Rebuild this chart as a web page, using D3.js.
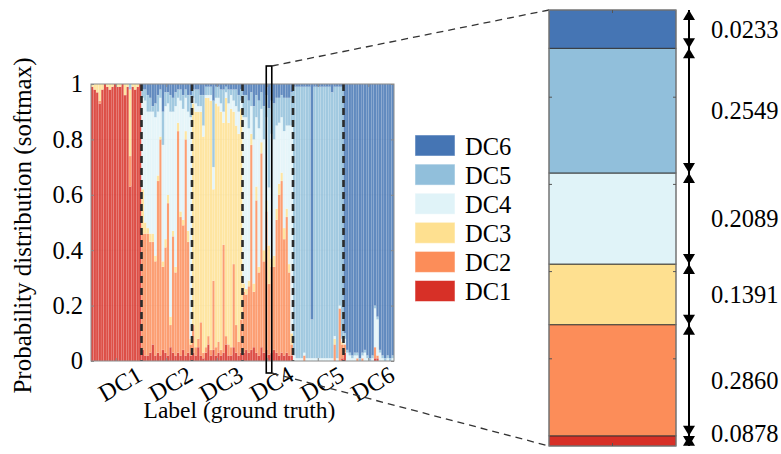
<!DOCTYPE html>
<html>
<head>
<meta charset="utf-8">
<script src="https://cdn.jsdelivr.net/npm/d3@7"></script>
<style>
  body { margin: 0; background: #fff; }
  text { font-family: "Liberation Serif", "Times New Roman", serif; fill: #000; }
</style>
</head>
<body>
<script>
// <--Data--> //
const classes = ["DC1", "DC2", "DC3", "DC4", "DC5", "DC6"];
const colors = ["#d73027", "#fc8d59", "#fee090", "#e0f3f8", "#91bfdb", "#4575b4"];
const yTicks = [0, 0.2, 0.4, 0.6, 0.8, 1];

// softmax outputs per sample, [p(DC1) .. p(DC6)], grouped by ground truth
const dc1Samples = [
  [0.99,0,0.01,0,0,0], [0.98,0,0.02,0,0,0], [0.97,0,0.03,0,0,0], [0.93,0.01,0.06,0,0,0],
  [0.98,0,0.02,0,0,0], [1,0,0,0,0,0], [0.99,0,0.01,0,0,0], [0.98,0,0.02,0,0,0],
  [0.99,0,0.01,0,0,0], [1,0,0,0,0,0], [0.99,0,0.01,0,0,0], [0.99,0,0.01,0,0,0],
  [1,0,0,0,0,0], [0.96,0,0.04,0,0,0], [0.99,0,0.01,0,0,0], [0.63,0.11,0.24,0,0.02,0],
  [0.99,0,0.01,0,0,0], [0.98,0,0.02,0,0,0], [0.99,0,0.01,0,0,0], [1,0,0,0,0,0]
];
const dc2Samples = [
  [0.04,0.42,0.16,0.33,0.03,0.02], [0.02,0.44,0.04,0.44,0.04,0.02], [0.02,0.44,0.02,0.42,0.06,0.04],
  [0.03,0.40,0.03,0.44,0.05,0.05], [0.06,0.37,0.03,0.44,0.02,0.08], [0.02,0.34,0.02,0.50,0.05,0.07],
  [0.03,0.62,0.02,0.23,0.06,0.04], [0.02,0.78,0.01,0.14,0.03,0.02], [0.04,0.30,0.02,0.42,0.12,0.10],
  [0.03,0.38,0.03,0.48,0.05,0.03], [0.02,0.55,0.03,0.33,0.04,0.03], [0.05,0.08,0.03,0.74,0.06,0.04],
  [0.03,0.42,0.02,0.43,0.05,0.05], [0.02,0.30,0.02,0.58,0.05,0.03], [0.03,0.80,0.03,0.09,0.03,0.02],
  [0.02,0.50,0.02,0.40,0.04,0.02], [0.04,0.45,0.02,0.40,0.05,0.04], [0.02,0.78,0.03,0.12,0.03,0.02],
  [0.03,0.40,0.04,0.43,0.06,0.04], [0.02,0.04,0.02,0.80,0.08,0.04]
];
const dc3Samples = [
  [0.03,0.10,0.80,0.02,0.03,0.02], [0.02,0.03,0.85,0.03,0.05,0.02], [0.05,0.03,0.82,0.02,0.06,0.02],
  [0.02,0.12,0.76,0.02,0.04,0.04], [0.01,0.02,0.78,0.04,0.11,0.04], [0.03,0.02,0.90,0.01,0.03,0.01],
  [0.06,0.03,0.86,0.01,0.03,0.01], [0.02,0.02,0.90,0.02,0.03,0.01], [0.04,0.25,0.33,0.08,0.24,0.06],
  [0.02,0.03,0.88,0.02,0.04,0.01], [0.03,0.04,0.85,0.03,0.04,0.01], [0.02,0.02,0.86,0.03,0.05,0.02],
  [0.03,0.39,0.44,0.04,0.08,0.02], [0.06,0.03,0.86,0.02,0.02,0.01], [0.02,0.04,0.80,0.07,0.05,0.02],
  [0.02,0.03,0.86,0.05,0.02,0.02], [0.05,0.30,0.55,0.04,0.04,0.02], [0.03,0.10,0.72,0.07,0.06,0.02],
  [0.02,0.05,0.75,0.08,0.06,0.04], [0.03,0.12,0.76,0.03,0.04,0.02]
];
const dc4Samples = [
  [0.03,0.22,0.03,0.60,0.08,0.04], [0.04,0.20,0.02,0.62,0.08,0.04], [0.03,0.24,0.02,0.55,0.10,0.06],
  [0.04,0.74,0.04,0.10,0.05,0.03], [0.05,0.20,0.03,0.52,0.12,0.08], [0.03,0.55,0.05,0.25,0.08,0.04],
  [0.02,0.30,0.02,0.50,0.10,0.06], [0.05,0.70,0.04,0.12,0.06,0.03], [0.03,0.33,0.04,0.40,0.12,0.08],
  [0.04,0.50,0.04,0.30,0.08,0.04], [0.0233,0.2549,0.1391,0.2089,0.2860,0.0878], [0.03,0.31,0.03,0.45,0.12,0.06],
  [0.04,0.30,0.04,0.42,0.13,0.07], [0.03,0.48,0.04,0.30,0.10,0.05], [0.02,0.58,0.04,0.22,0.09,0.05],
  [0.03,0.62,0.03,0.20,0.08,0.04], [0.02,0.42,0.04,0.35,0.12,0.05], [0.03,0.49,0.03,0.30,0.10,0.05],
  [0.02,0.30,0.03,0.50,0.10,0.05], [0.02,0.04,0.04,0.75,0.12,0.03]
];
const dc5Samples = [
  [0,0,0,0.02,0.97,0.01], [0,0,0,0.01,0.98,0.01], [0,0,0,0.01,0.98,0.01], [0,0,0,0.01,0.98,0.01],
  [0,0.02,0,0.01,0.96,0.01], [0,0,0,0.01,0.98,0.01], [0,0,0,0.01,0.98,0.01], [0,0,0,0.01,0.14,0.85],
  [0,0,0,0.01,0.98,0.01], [0,0,0,0.01,0.98,0.01], [0,0,0,0.01,0.98,0.01], [0,0,0,0.01,0.98,0.01],
  [0,0,0,0.01,0.98,0.01], [0,0,0,0.01,0.98,0.01], [0,0,0,0.01,0.98,0.01], [0,0,0,0.01,0.96,0.03],
  [0,0.06,0.02,0.01,0.90,0.01], [0,0,0,0.01,0.98,0.01], [0,0.19,0,0.01,0.79,0.01], [0.01,0.05,0.01,0.01,0.91,0.01]
];
const dc6Samples = [
  [0.03,0.03,0,0.02,0.02,0.90], [0,0,0,0.03,0.01,0.96], [0,0,0,0.02,0.01,0.97], [0,0,0,0.01,0.01,0.98],
  [0,0,0,0.02,0.01,0.97], [0,0.01,0,0.01,0.01,0.97], [0,0,0,0,0.01,0.99], [0,0.01,0,0.01,0.01,0.97],
  [0,0,0,0.03,0.01,0.96], [0,0,0,0.01,0.01,0.98], [0,0,0,0,0.01,0.99], [0,0,0,0.01,0.01,0.98],
  [0.01,0.04,0,0.14,0.01,0.80], [0.01,0.01,0,0.13,0.01,0.84], [0,0,0,0.03,0.01,0.96], [0,0,0,0.01,0.01,0.98],
  [0,0,0,0,0.01,0.99], [0,0,0,0.01,0.01,0.98], [0,0,0,0,0.01,0.99], [0,0,0,0.01,0.01,0.98]
];

// the single sample blown up on the right (group DC4, sample 10)
const focusGroup = 3, focusIndex = 10;
const focusValues = [0.0233, 0.2549, 0.1391, 0.2089, 0.2860, 0.0878];
// labels next to the zoomed bar, top to bottom, as printed in the figure
const focusLabels = ["0.0233", "0.2549", "0.2089", "0.1391", "0.2860", "0.0878"];

// <--Layout--> //
const W = 781, H = 454;
const plot = {x0: 91, x1: 394, y0: 84, y1: 361};
const panel = {x0: 549, x1: 676, y0: 10, y1: 446};
const font = 24.5;
const serif = "Liberation Serif, Times New Roman, serif";

const svg = d3.select("body").append("svg").attr("width", W).attr("height", H)
  .attr("font-family", serif);

const groups = [dc1Samples, dc2Samples, dc3Samples, dc4Samples, dc5Samples, dc6Samples];
const samples = groups.flatMap((g, gi) => g.map((p, i) => {
  let row = {id: gi * 100 + i, group: classes[gi]};
  classes.forEach((c, k) => row[c] = p[k]);
  return row;
}));

const x = d3.scaleBand().domain(samples.map(d => d.id)).range([plot.x0, plot.x1]);
const gx = d3.scaleBand().domain(classes).range([plot.x0, plot.x1]);
const y = d3.scaleLinear().domain([0, 1]).range([plot.y1, plot.y0]);
const color = d3.scaleOrdinal().domain(classes).range(colors);

// grid
svg.append("g").selectAll("line").data(yTicks.slice(1, -1)).enter().append("line")
  .attr("x1", plot.x0).attr("x2", plot.x1)
  .attr("y1", d => y(d)).attr("y2", d => y(d))
  .attr("stroke", "#e6e6e6").attr("stroke-width", 0.8);

// stacked bars
const layers = d3.stack().keys(classes)(samples);
svg.append("g").selectAll("g").data(layers).enter().append("g")
  .attr("fill", d => color(d.key))
  .selectAll("rect").data(d => d).enter().append("rect")
  .attr("x", d => x(d.data.id))
  .attr("width", x.bandwidth())
  .attr("y", d => y(d[1]))
  .attr("height", d => Math.max(0, y(d[0]) - y(d[1])))
  .attr("fill-opacity", 0.85)
  .attr("stroke", "#ffffff").attr("stroke-opacity", 0.25).attr("stroke-width", 0.4);

// dashed separators between ground-truth groups
svg.append("g").selectAll("line").data(classes.slice(1)).enter().append("line")
  .attr("x1", d => gx(d)).attr("x2", d => gx(d))
  .attr("y1", plot.y0).attr("y2", plot.y1)
  .attr("stroke", "#2b2b2b").attr("stroke-width", 2.6).attr("stroke-dasharray", "7,5");

// axes box
svg.append("rect")
  .attr("x", plot.x0).attr("y", plot.y0)
  .attr("width", plot.x1 - plot.x0).attr("height", plot.y1 - plot.y0)
  .attr("fill", "none").attr("stroke", "#8a8a8a").attr("stroke-width", 1);

const yAxis = svg.append("g").attr("transform", `translate(${plot.x0},0)`)
  .call(d3.axisLeft(y).tickValues(yTicks).tickSize(-3).tickPadding(8).tickFormat(d3.format("~g")));
yAxis.attr("font-family", serif).attr("font-size", font);
yAxis.select(".domain").remove();
yAxis.selectAll("line").attr("stroke", "#8a8a8a");

const yAxisR = svg.append("g").attr("transform", `translate(${plot.x1},0)`)
  .call(d3.axisRight(y).tickValues(yTicks).tickSize(-3).tickFormat(""));
yAxisR.select(".domain").remove();
yAxisR.selectAll("line").attr("stroke", "#8a8a8a");

const groupCenter = c => gx(c) + gx.bandwidth() / 2;
[plot.y0, plot.y1].forEach((yy, i) => {
  svg.append("g").selectAll("line").data(classes).enter().append("line")
    .attr("x1", groupCenter).attr("x2", groupCenter)
    .attr("y1", yy).attr("y2", i ? yy - 3 : yy + 3)
    .attr("stroke", "#8a8a8a");
});

// rotated category labels
svg.append("g").selectAll("text").data(classes).enter().append("text")
  .attr("transform", d => `translate(${groupCenter(d) + 4},${plot.y1 + 23}) rotate(-30)`)
  .attr("text-anchor", "middle").attr("dominant-baseline", "central")
  .attr("font-size", 24).text(d => d);

svg.append("text")
  .attr("x", (plot.x0 + plot.x1) / 2 - 3).attr("y", 418)
  .attr("text-anchor", "middle").attr("font-size", 23.5)
  .text("Label (ground truth)");

svg.append("text")
  .attr("transform", `translate(22,${(plot.y0 + plot.y1) / 2 + 3}) rotate(-90)`)
  .attr("text-anchor", "middle").attr("dominant-baseline", "central")
  .attr("font-size", 25)
  .text("Probability distribution (softmax)");

// legend, top entry is DC6
const legend = svg.append("g").selectAll("g").data(classes.slice().reverse()).enter().append("g")
  .attr("transform", (d, i) => `translate(415,${135 + i * 29.1})`);
legend.append("rect").attr("width", 40).attr("height", 21)
  .attr("fill", d => color(d)).attr("stroke", "#ffffff").attr("stroke-opacity", 0.5);
legend.append("text").attr("x", 50).attr("y", 11)
  .attr("dominant-baseline", "central").attr("font-size", font).text(d => d);

// highlight box round the focused bar
const focusId = focusGroup * 100 + focusIndex;
const bx0 = x(focusId) - 1.5, bx1 = x(focusId) + x.bandwidth() + 1.5;
svg.append("rect")
  .attr("x", bx0).attr("y", 66).attr("width", bx1 - bx0).attr("height", 373 - 66)
  .attr("fill", "none").attr("stroke", "#000").attr("stroke-width", 1.6);

svg.append("g").selectAll("line").data([[66, panel.y0], [373, panel.y1]]).enter().append("line")
  .attr("x1", bx1).attr("y1", d => d[0])
  .attr("x2", panel.x0).attr("y2", d => d[1])
  .attr("stroke", "#333").attr("stroke-width", 1.3).attr("stroke-dasharray", "7,5");

// <--Zoomed bar--> //
const yz = d3.scaleLinear().domain([0, 1]).range([panel.y1, panel.y0]);
const focusStack = d3.stack().keys(classes)([Object.fromEntries(classes.map((c, k) => [c, focusValues[k]]))]);

svg.append("g").selectAll("rect").data(focusStack).enter().append("rect")
  .attr("x", panel.x0).attr("width", panel.x1 - panel.x0)
  .attr("y", d => yz(d[0][1]))
  .attr("height", d => yz(d[0][0]) - yz(d[0][1]))
  .attr("fill", d => color(d.key))
  .attr("stroke", "#333").attr("stroke-width", 0.9);

svg.append("rect")
  .attr("x", panel.x0).attr("y", panel.y0)
  .attr("width", panel.x1 - panel.x0).attr("height", panel.y1 - panel.y0)
  .attr("fill", "none").attr("stroke", "#8a8a8a").attr("stroke-width", 1);

const pTicks = yTicks.slice(1, -1);
[[panel.x0, 3], [panel.x1, -3]].forEach(([xx, dx]) => {
  svg.append("g").selectAll("line").data(pTicks).enter().append("line")
    .attr("x1", xx).attr("x2", xx + dx)
    .attr("y1", d => yz(d)).attr("y2", d => yz(d))
    .attr("stroke", "#555");
});
const pcx = (panel.x0 + panel.x1) / 2;
[[panel.y0, 3], [panel.y1, -3]].forEach(([yy, dy]) => {
  svg.append("line").attr("x1", pcx).attr("x2", pcx)
    .attr("y1", yy).attr("y2", yy + dy).attr("stroke", "#555");
});

// double arrows per segment
const ax = 689, ah = 10, aw = 6;
svg.append("line").attr("x1", ax).attr("x2", ax)
  .attr("y1", panel.y0).attr("y2", panel.y1)
  .attr("stroke", "#000").attr("stroke-width", 2);
const heads = svg.append("g");
focusStack.forEach(s => {
  const top = yz(s[0][1]), bot = yz(s[0][0]);
  heads.append("path").attr("d", `M${ax},${top}L${ax - aw},${top + ah}L${ax + aw},${top + ah}Z`);
  heads.append("path").attr("d", `M${ax},${bot}L${ax - aw},${bot - ah}L${ax + aw},${bot - ah}Z`);
});
heads.selectAll("path").attr("fill", "#000");

// value labels beside each segment, top to bottom
const segOrder = focusStack.slice().reverse();
svg.append("g").selectAll("text").data(segOrder).enter().append("text")
  .attr("x", 711)
  .attr("y", d => Math.min((yz(d[0][0]) + yz(d[0][1])) / 2, 433))
  .attr("dominant-baseline", "central").attr("font-size", font)
  .text((d, i) => focusLabels[i]);
</script>
</body>
</html>
